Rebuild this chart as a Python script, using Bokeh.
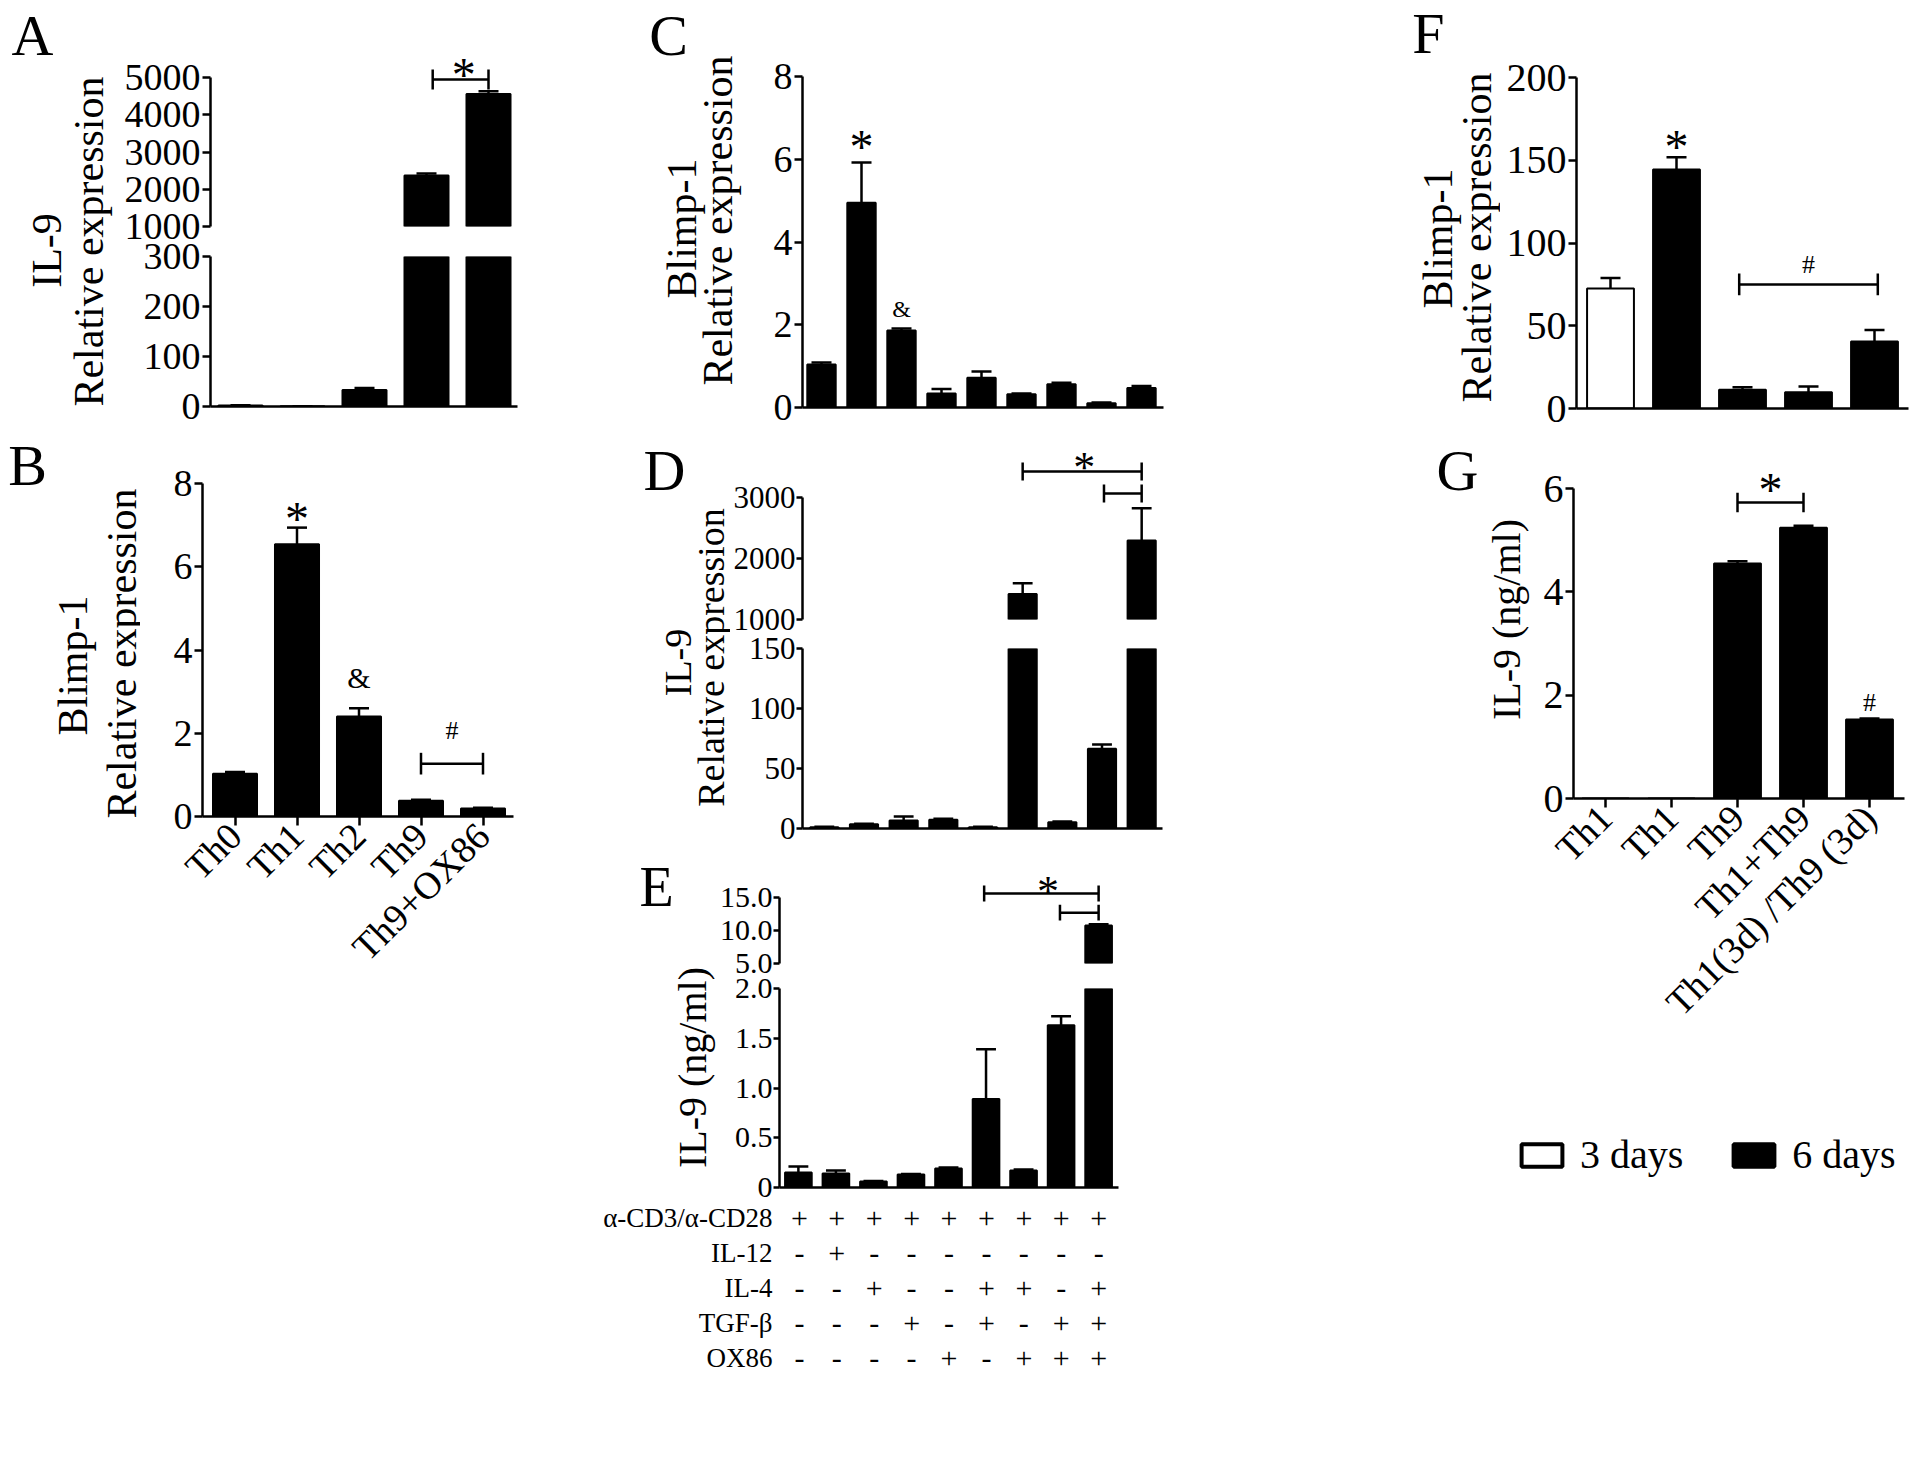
import numpy as np
from bokeh.plotting import figure
from bokeh.models import (Range1d, FactorRange, FixedTicker, LinearAxis, CategoricalAxis,
                          ColumnDataSource)
from bokeh.layouts import row, column
from bokeh.embed import file_html
from bokeh.resources import INLINE
from bokeh.core.properties import value

FONT = "Liberation Serif"

# ---------------- data ----------------
groups_B = ["Th0", "Th1", "Th2", "Th9", "Th9+OX86"]
il9_A = [2, 0.5, 33, 2370, 4560]
il9_A_err = [0.5, 0.2, 4, 50, 70]
blimp_B = [1.03, 6.54, 2.40, 0.38, 0.19]
blimp_B_err = [0.04, 0.40, 0.20, 0.02, 0.02]

blimp_C = [1.04, 4.95, 1.86, 0.34, 0.72, 0.32, 0.56, 0.10, 0.47]
blimp_C_err = [0.05, 0.97, 0.05, 0.11, 0.15, 0.02, 0.04, 0.02, 0.05]
il9_D = [1.1, 3.5, 6.7, 7.2, 1.1, 1420, 5.3, 66.4, 2295]
il9_D_err = [0.4, 0.4, 3.3, 0.9, 0.3, 175, 0.5, 3.6, 530]
il9_E = [0.15, 0.14, 0.06, 0.13, 0.19, 0.89, 0.17, 1.63, 10.75]
il9_E_err = [0.06, 0.03, 0.005, 0.005, 0.012, 0.50, 0.012, 0.09, 0.2]

treatments = ["α-CD3/α-CD28", "IL-12", "IL-4", "TGF-β", "OX86"]
treat_cd3 = "+++++++++"
treat_il12 = "-+-------"
treat_il4 = "--+--++-+"
treat_tgfb = "---+-+-++"
treat_ox86 = "----+-+++"

groups_FG = ["Th1", "Th1", "Th9", "Th1+Th9", "Th1(3d) /Th9 (3d)"]
days_FG = ["3 days", "6 days", "6 days", "6 days", "6 days"]
blimp_F = [72.5, 144.4, 11.3, 9.8, 40.5]
blimp_F_err = [6.4, 7.4, 1.6, 3.5, 7.0]
il9_G = [0, 0, 4.55, 5.24, 1.53]
il9_G_err = [0, 0, 0.04, 0.04, 0.02]

DAY_FILL = {"3 days": "white", "6 days": "black"}


# ---------------- helpers ----------------
def xr(fx0, fx1, c0, d):
    return Range1d((fx0 - c0) / d, (fx1 - c0) / d)


def yr(fy_top, fy_bot, pa, va, pb, vb):
    s = (vb - va) / (pb - pa)
    return Range1d(va + (fy_bot - pa) * s, va + (fy_top - pa) * s)


def panel(x0, y0, x1, y1, fx0, fy0, fx1, fy1, x_range, y_range):
    p = figure(width=x1 - x0, height=y1 - y0, x_range=x_range, y_range=y_range,
               output_backend="svg", toolbar_location=None,
               x_axis_location=None, y_axis_location=None,
               min_border_left=fx0 - x0, min_border_right=x1 - fx1,
               min_border_top=fy0 - y0, min_border_bottom=y1 - fy1)
    p.outline_line_color = None
    p.xgrid.visible = False
    p.ygrid.visible = False
    p.background_fill_color = "white"
    p.border_fill_color = "white"
    return p


def style_axis(ax, font_px):
    ax.axis_line_width = 2.5
    ax.axis_line_color = "black"
    ax.major_tick_line_width = 2.5
    ax.major_tick_line_color = "black"
    ax.major_tick_out = 8
    ax.major_tick_in = 0
    ax.minor_tick_line_color = None
    ax.major_label_text_font = FONT
    ax.major_label_text_font_size = f"{font_px}px"
    ax.major_label_text_color = "black"
    ax.major_label_standoff = 2


def add_y(p, ticks, bounds, font_px, labels=None):
    ax = LinearAxis(ticker=FixedTicker(ticks=ticks), bounds=bounds)
    style_axis(ax, font_px)
    if labels:
        ax.major_label_overrides = {t: l for t, l in zip(ticks, labels)}
    p.add_layout(ax, "left")
    return ax


def add_x(p, labels=None, font_px=38):
    if labels:
        ax = LinearAxis(ticker=FixedTicker(ticks=list(range(len(labels)))))
        style_axis(ax, font_px)
        ax.major_label_overrides = {i: l for i, l in enumerate(labels)}
        ax.major_label_orientation = np.pi / 4
        ax.major_tick_out = 9
        ax.major_label_standoff = 4
    else:
        ax = LinearAxis(ticker=FixedTicker(ticks=[]))
        style_axis(ax, 1)
        ax.major_tick_out = 0
        ax.major_label_standoff = 0
    p.add_layout(ax, "below")


def draw_bars(p, vals, errs, cap_half, seg_lo=None, seg_hi=None, fills=None, width=0.71):
    n = len(vals)
    fills = fills or ["black"] * n
    keep = [i for i in range(n) if seg_lo is None or vals[i] > seg_lo]
    src = ColumnDataSource(dict(x=keep, top=[vals[i] for i in keep], fill=[fills[i] for i in keep]))
    p.vbar(x="x", top="top", bottom=0, width=width, source=src, fill_color="fill",
           line_color="black", line_width=2)
    ek = [i for i in range(n) if errs[i] > 0
          and (seg_lo is None or vals[i] + errs[i] > seg_lo)
          and (seg_hi is None or vals[i] < seg_hi)]
    lo = [vals[i] for i in ek]
    hi = [vals[i] + errs[i] for i in ek]
    p.segment(x0=ek, y0=lo, x1=ek, y1=hi, line_color="black", line_width=2.5)
    p.segment(x0=[i - cap_half for i in ek], y0=hi, x1=[i + cap_half for i in ek], y1=hi,
              line_color="black", line_width=2.5)


def mark(p, x, y, txt, size):
    p.text(x=[x], y=[y], text=[txt], text_font=value(FONT), text_font_size=f"{size}px",
           text_align="center", text_baseline="middle", text_color="black")


def bracket(p, xa, xb, y, cap):
    p.segment(x0=[xa, xa, xb], y0=[y, y - cap, y - cap], x1=[xb, xa, xb], y1=[y, y + cap, y + cap],
              line_color="black", line_width=2.5)


def strip(x0, y0, x1, y1, items):
    w, h = x1 - x0, y1 - y0
    p = figure(width=w, height=h, x_range=Range1d(0, w), y_range=Range1d(0, h),
               output_backend="svg", toolbar_location=None,
               x_axis_location=None, y_axis_location=None,
               min_border_left=0, min_border_right=0, min_border_top=0, min_border_bottom=0)
    p.outline_line_color = None
    p.xgrid.visible = False
    p.ygrid.visible = False
    for (txt, x, y, size, ang) in items:
        p.text(x=[x - x0], y=[y1 - y], text=[txt], angle=ang, text_font=value(FONT),
               text_font_size=f"{size}px", text_align="center", text_baseline="middle",
               text_color="black")
    return p


V = np.pi / 2

# ---------------- Panel A ----------------
A_top = panel(118, 0, 600, 241, 210, 40, 517, 226, xr(210, 517, 240, 62),
              yr(40, 226, 226, 1000, 77, 5000))
add_y(A_top, [1000, 2000, 3000, 4000, 5000], (1000, 5000), 38)
draw_bars(A_top, il9_A, il9_A_err, 10 / 62, seg_lo=1000)
bracket(A_top, 3.1, 4.0, 4946, 268)
mark(A_top, 3.6, 5080, "*", 48)

A_bot = panel(118, 241, 600, 430, 210, 256, 517, 406, xr(210, 517, 240, 62),
              yr(256, 406, 406, 0, 256, 300))
add_y(A_bot, [0, 100, 200, 300], (0, 300), 38)
add_x(A_bot)
draw_bars(A_bot, il9_A, il9_A_err, 10 / 62, seg_hi=300)

A_strip = strip(0, 0, 118, 430, [("A", 32, 35, 58, 0), ("IL-9", 46, 250, 42, V),
                                 ("Relative expression", 88, 241, 42, V)])

# ---------------- Panel B ----------------
B = panel(140, 430, 600, 1000, 202, 483, 513, 816, xr(202, 513, 234.5, 62),
          yr(483, 816, 816, 0, 483, 8))
add_y(B, [0, 2, 4, 6, 8], (0, 8), 38)
add_x(B, groups_B, 38)
draw_bars(B, blimp_B, blimp_B_err, 10 / 62)
mark(B, 1, 7.16, "*", 48)
mark(B, 2, 3.34, "&", 30)
mark(B, 3.5, 2.07, "#", 26)
bracket(B, 3, 4, 1.27, 0.26)
B_strip = strip(0, 430, 140, 1000, [("B", 27, 465, 58, 0), ("Blimp-1", 72, 665, 42, V),
                                    ("Relative expression", 121, 653, 42, V)])

# ---------------- Panel C ----------------
C = panel(750, 0, 1400, 436, 802, 76, 1163, 407, xr(802, 1163, 821, 40),
          yr(76, 407, 407, 0, 76, 8))
add_y(C, [0, 2, 4, 6, 8], (0, 8), 38)
add_x(C)
draw_bars(C, blimp_C, blimp_C_err, 10 / 40)
mark(C, 1, 6.31, "*", 48)
mark(C, 2, 2.39, "&", 24)
C_strip = strip(600, 0, 750, 436, [("C", 668, 35, 58, 0), ("Blimp-1", 681, 228, 42, V),
                                   ("Relative expression", 717, 220, 42, V)])

# ---------------- Panel D ----------------
D_top = panel(730, 436, 1400, 633, 799, 440, 1162, 619, xr(799, 1162, 821, 40),
              yr(440, 619, 619, 1000, 497, 3000))
ad1 = add_y(D_top, [1000, 2000, 3000], (1000, 3000), 31)
draw_bars(D_top, il9_D, il9_D_err, 10 / 40, seg_lo=1000)
mark(D_top, 6.55, 3492, "*", 44)
bracket(D_top, 5, 8, 3426, 148)
bracket(D_top, 7.05, 8, 3066, 148)

D_bot = panel(730, 633, 1400, 856, 799, 648, 1162, 828, xr(799, 1162, 821, 40),
              yr(648, 828, 828, 0, 648, 150))
ad2 = add_y(D_bot, [0, 50, 100, 150], (0, 150), 31)
add_x(D_bot)
draw_bars(D_bot, il9_D, il9_D_err, 10 / 40, seg_hi=150)
for ax in (ad1, ad2):
    ax.major_tick_out = 6
    ax.major_label_standoff = 1
D_strip = strip(600, 436, 730, 856, [("D", 664, 470, 58, 0), ("IL-9", 677, 662, 38, V),
                                     ("Relative expression", 710, 657, 38, V)])

# ---------------- Panel E ----------------
E_top = panel(716, 856, 1400, 975, 777, 860, 1118, 963, xr(777, 1118, 796, 37.75),
              yr(860, 963, 963, 5, 897, 15))
ay1 = add_y(E_top, [5, 10, 15], (5, 15), 30, ["5.0", "10.0", "15.0"])
draw_bars(E_top, il9_E, il9_E_err, 10 / 37.75, seg_lo=5)
mark(E_top, 6.65, 15.9, "*", 44)
bracket(E_top, 4.95, 8, 15.6, 1.2)
bracket(E_top, 6.97, 8, 12.7, 1.2)

E_bot = panel(716, 975, 1400, 1197, 777, 988, 1118, 1187, xr(777, 1118, 796, 37.75),
              yr(988, 1187, 1187, 0, 988, 2))
ay2 = add_y(E_bot, [0, 0.5, 1, 1.5, 2], (0, 2), 30, ["0", "0.5", "1.0", "1.5", "2.0"])
add_x(E_bot)
draw_bars(E_bot, il9_E, il9_E_err, 10 / 37.75, seg_hi=2)
for ax in (ay1, ay2):
    ax.major_tick_out = 6
    ax.major_label_standoff = 1
E_strip = strip(600, 856, 716, 1197, [("E", 656, 886, 56, 0), ("IL-9 (ng/ml)", 692, 1067, 40, V)])

# treatment table
tbl = figure(width=800, height=253, x_range=xr(782, 1118, 796, 37.75),
             y_range=FactorRange(factors=treatments[::-1]),
             output_backend="svg", toolbar_location=None,
             x_axis_location=None, y_axis_location=None,
             min_border_left=182, min_border_right=282, min_border_top=3, min_border_bottom=75)
tbl.outline_line_color = None
tbl.xgrid.visible = False
tbl.ygrid.visible = False
tax = CategoricalAxis()
tax.axis_line_color = None
tax.major_tick_line_color = None
tax.minor_tick_line_color = None
tax.major_label_text_font = FONT
tax.major_label_text_font_size = "27px"
tax.major_label_text_color = "black"
tax.major_label_standoff = 7
tbl.add_layout(tax, "left")
tx, ty, tt = [], [], []
for name, marks in zip(treatments, [treat_cd3, treat_il12, treat_il4, treat_tgfb, treat_ox86]):
    for i, m in enumerate(marks):
        tx.append(i)
        ty.append(name)
        tt.append(m)
tbl.text(x=tx, y=ty, text=tt, text_font=value(FONT), text_font_size="30px",
         text_align="center", text_baseline="middle", text_color="black")

# ---------------- Panel F ----------------
F = panel(1500, 0, 1912, 436, 1576, 77, 1908, 408, xr(1576, 1908, 1610, 66),
          yr(77, 408, 408, 0, 77, 200))
add_y(F, [0, 50, 100, 150, 200], (0, 200), 40)
add_x(F)
draw_bars(F, blimp_F, blimp_F_err, 10 / 66, fills=[DAY_FILL[d] for d in days_FG])
mark(F, 1, 158.4, "*", 48)
mark(F, 3, 87, "#", 26)
bracket(F, 1.95, 4.05, 75, 6.6)
F_strip = strip(1400, 0, 1500, 436, [("F", 1428, 33, 58, 0), ("Blimp-1", 1437, 238, 42, V),
                                     ("Relative expression", 1476, 237, 42, V)])

# ---------------- Panel G ----------------
G = panel(1530, 436, 1912, 1110, 1573, 455, 1904, 798, xr(1573, 1904, 1605, 66),
          yr(455, 798, 798, 0, 488, 6))
add_y(G, [0, 2, 4, 6], (0, 6), 40)
add_x(G, groups_FG, 38)
draw_bars(G, il9_G, il9_G_err, 10 / 66, fills=[DAY_FILL[d] for d in days_FG])
mark(G, 2.5, 5.99, "*", 48)
bracket(G, 2, 3, 5.73, 0.19)
mark(G, 4, 1.86, "#", 26)
G_strip = strip(1400, 436, 1530, 1110, [("G", 1457, 470, 58, 0), ("IL-9 (ng/ml)", 1506, 619, 40, V)])

# ---------------- legend (3 days / 6 days) ----------------
LG = figure(width=512, height=105, x_range=Range1d(0, 1), y_range=Range1d(0, 1),
            output_backend="svg", toolbar_location=None,
            x_axis_location=None, y_axis_location=None,
            min_border_left=0, min_border_right=0, min_border_top=0, min_border_bottom=0)
LG.outline_line_color = None
LG.xgrid.visible = False
LG.ygrid.visible = False
lsrc = ColumnDataSource(dict(x=list(range(len(blimp_F))), top=blimp_F,
                             fill=[DAY_FILL[d] for d in days_FG], day=days_FG))
lr = LG.vbar(x="x", top="top", width=0.7, source=lsrc, fill_color="fill", line_color="black",
             line_width=4, legend_group="day")
lr.visible = False
lg = LG.legend[0]
lg.location = (116, 37)
lg.orientation = "horizontal"
lg.border_line_color = None
lg.background_fill_alpha = 0
lg.inactive_fill_alpha = 0
lg.label_text_font = FONT
lg.label_text_font_size = "40px"
lg.label_text_color = "black"
lg.glyph_width = 51
lg.glyph_height = 28
lg.spacing = 45
lg.label_standoff = 13
lg.padding = 0
lg.margin = 0

# ---------------- layout ----------------
col1 = column(row(A_strip, column(A_top, A_bot)), row(column(B_strip), column(B)))
col2 = column(row(column(C_strip), column(C)), row(D_strip, column(D_top, D_bot)),
              row(E_strip, column(E_top, E_bot)), tbl)
col3 = column(row(column(F_strip), column(F)), row(column(G_strip), column(G)), LG)
layout = row(col1, col2, col3)

open("out.html", "w").write(file_html(layout, INLINE))
